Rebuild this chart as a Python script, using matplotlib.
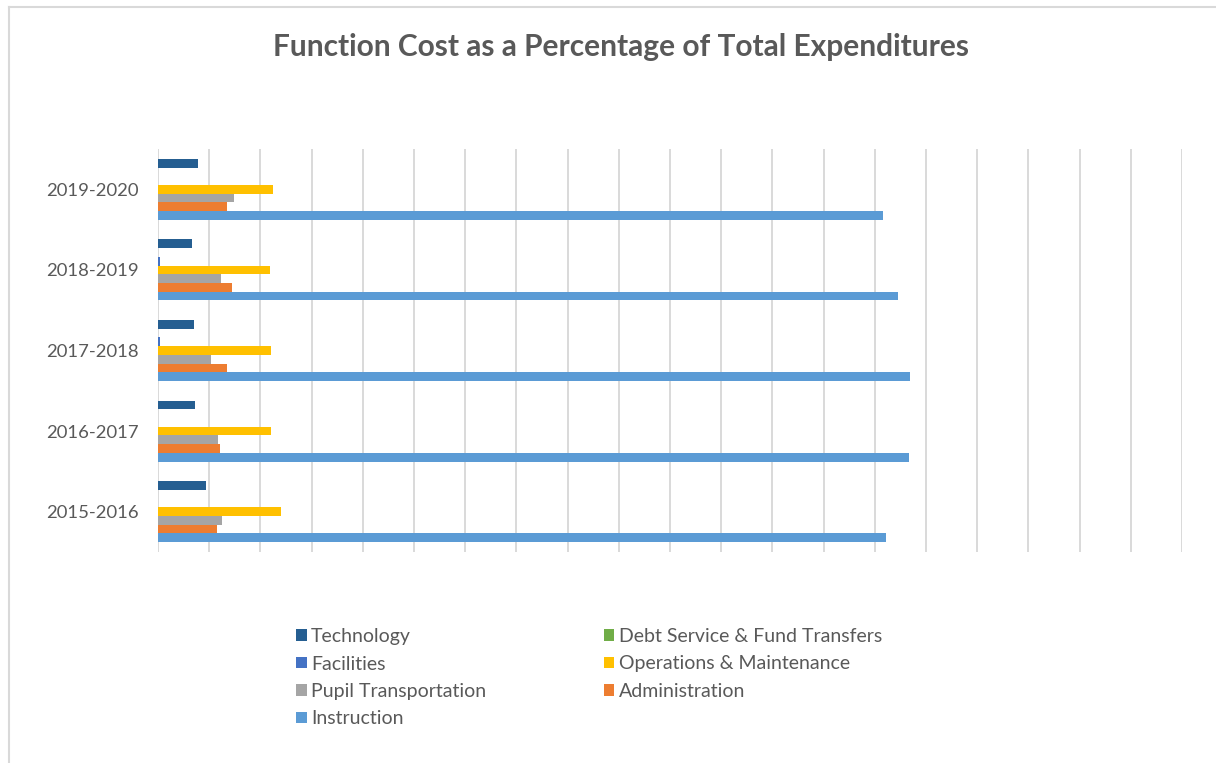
import matplotlib
matplotlib.use('Agg')
import matplotlib.pyplot as plt
from matplotlib.patches import Patch
from matplotlib.lines import Line2D
import numpy as np

years = ['2015-2016', '2016-2017', '2017-2018', '2018-2019', '2019-2020']

# share of total expenditures per function, one value per year
technology = [0.047, 0.0365, 0.035, 0.033, 0.039]
debt_service = [0.0, 0.0, 0.0, 0.0, 0.0]
facilities = [0.0, 0.0, 0.002, 0.002, 0.0]
operations = [0.120, 0.110, 0.110, 0.109, 0.112]
pupil_transport = [0.0625, 0.059, 0.052, 0.062, 0.074]
administration = [0.058, 0.061, 0.067, 0.072, 0.067]
instruction = [0.711, 0.733, 0.734, 0.723, 0.708]

# top-to-bottom order inside each year group
series = [
    ('Technology', technology, '#255E91'),
    ('Debt Service & Fund Transfers', debt_service, '#70AD47'),
    ('Facilities', facilities, '#4472C4'),
    ('Operations & Maintenance', operations, '#FFC000'),
    ('Pupil Transportation', pupil_transport, '#A5A5A5'),
    ('Administration', administration, '#ED7D31'),
    ('Instruction', instruction, '#5B9BD5'),
]

plt.rcParams['font.family'] = ['Lato', 'DejaVu Sans']
text_color = '#595959'

fig = plt.figure(figsize=(12.16, 7.63), dpi=100)
ax = fig.add_axes([158 / 1216, 1 - 552 / 763, (1182 - 158) / 1216, (552 - 149) / 763])

y = np.arange(len(years))
h = 0.108
for i, (name, vals, color) in enumerate(series):
    ax.barh(y + (3 - i) * h, vals, h, color=color, label=name, zorder=3)

ax.set_xlim(0, 1.0)
ax.set_ylim(-0.5, len(years) - 0.5)
ax.set_xticks(np.arange(0, 1.0001, 0.05))
ax.xaxis.grid(True, color='#D9D9D9', linewidth=1.4, zorder=0)
ax.tick_params(axis='x', length=0, labelbottom=False)
ax.set_yticks(y)
ax.set_yticklabels(years)
ax.tick_params(axis='y', length=0, pad=14, labelsize=13.3, labelcolor=text_color)
for s in ax.spines.values():
    s.set_visible(False)

fig.text(0.511, 0.938, 'Function Cost as a Percentage of Total Expenditures',
         ha='center', va='center', fontsize=21.5, fontweight='bold', color=text_color)

# legend laid out column by column
order = [0, 2, 4, 6, 1, 3, 5]
handles = [Patch(facecolor=series[k][2], edgecolor='none') for k in order]
labels = [series[k][0] for k in order]
leg = fig.legend(handles, labels, ncol=2, loc='upper left',
                 bbox_to_anchor=(296 / 1216, 1 - 628 / 763), frameon=False,
                 fontsize=14, labelcolor=text_color, handlelength=0.55,
                 handleheight=0.55, handletextpad=0.22, labelspacing=0.54,
                 columnspacing=6.05, borderpad=0, borderaxespad=0)

# light chart border on the left and top edges
fig.add_artist(Line2D([9 / 1216, 9 / 1216], [0, 1 - 7 / 763], color='#D9D9D9', linewidth=1.5))
fig.add_artist(Line2D([9 / 1216, 1], [1 - 7 / 763, 1 - 7 / 763], color='#D9D9D9', linewidth=1.5))

fig.savefig('out.png', dpi=100)
